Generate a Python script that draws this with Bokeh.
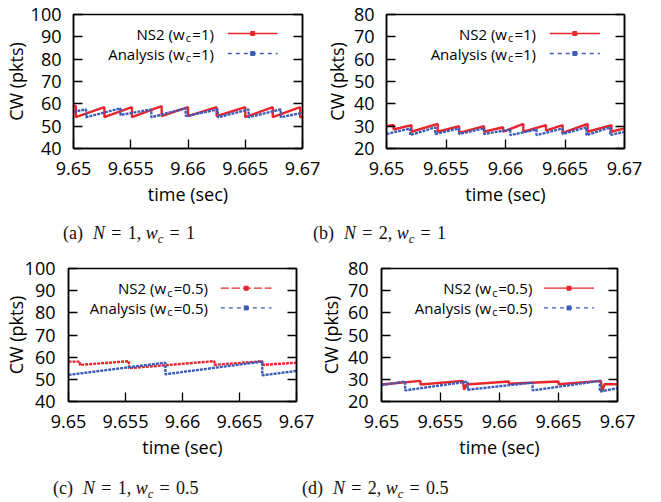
from bokeh.plotting import figure
from bokeh.models import Range1d, FixedTicker, LinearAxis, Label, Div
from bokeh.layouts import column, row
from bokeh.embed import file_html
from bokeh.resources import INLINE

# ---------------- data ----------------
X_TICKS = [9.65, 9.655, 9.66, 9.665, 9.67]
X_TICK_LABELS = ["9.65", "9.655", "9.66", "9.665", "9.67"]
Y_TICKS_N1 = [40, 50, 60, 70, 80, 90, 100]
Y_TICKS_N2 = [20, 30, 40, 50, 60, 70, 80]

# (a) N=1, wc=1
A_NS2_T = [9.6500, 9.6502, 9.6502, 9.6527, 9.6527, 9.6551, 9.6551, 9.6577, 9.6577, 9.6600,
           9.6600, 9.6625, 9.6625, 9.6650, 9.6650, 9.6674, 9.6674, 9.6698, 9.6698, 9.6700]
A_NS2_CW = [59, 59, 54, 58.5, 54, 58.5, 54, 59, 54.5, 58.5,
            54.5, 58.5, 54.5, 58.5, 54, 58.5, 54, 58.5, 54, 54]
A_ANA_T = [9.6500, 9.6511, 9.6511, 9.6541, 9.6541, 9.6568, 9.6568, 9.6598, 9.6598, 9.6626,
           9.6626, 9.6653, 9.6653, 9.6681, 9.6681, 9.6700]
A_ANA_CW = [56.5, 57.5, 54, 58, 55, 57.5, 54, 58, 54.5, 57.5,
            54, 57.5, 54, 57.5, 54, 56]

# (b) N=2, wc=1
B_NS2_T = [9.6500, 9.6506, 9.6506, 9.6521, 9.6521, 9.6543, 9.6543, 9.6561, 9.6561, 9.6582,
           9.6582, 9.6598, 9.6598, 9.6615, 9.6615, 9.6634, 9.6634, 9.6648, 9.6648, 9.6669,
           9.6669, 9.6689, 9.6689, 9.6700]
B_NS2_CW = [30, 30.5, 28.5, 30.5, 27.5, 31, 27.5, 30, 27, 30,
            27.5, 29.5, 27.5, 31, 27.5, 30.5, 28, 30.5, 27, 31,
            27.5, 30.5, 27.5, 29]
B_ANA_T = [9.6500, 9.6520, 9.6520, 9.6541, 9.6541, 9.6561, 9.6561, 9.6582, 9.6582, 9.6604,
           9.6604, 9.6626, 9.6626, 9.6648, 9.6648, 9.6668, 9.6668, 9.6688, 9.6688, 9.6700]
B_ANA_CW = [26.5, 29, 26, 29.5, 26.5, 29, 26.5, 29, 26.5, 28.5,
            26, 28.5, 26, 29, 26.5, 29.5, 26, 29.5, 26, 27.5]

# (c) N=1, wc=0.5
C_NS2_T = [9.6500, 9.6510, 9.6510, 9.6553, 9.6553, 9.6628, 9.6628, 9.6670, 9.6670, 9.6700]
C_NS2_CW = [58, 58, 56.5, 58.2, 55, 58.2, 56.5, 58.2, 56.5, 57.5]
C_ANA_T = [9.6500, 9.6585, 9.6585, 9.6670, 9.6670, 9.6700]
C_ANA_CW = [52, 57.5, 52.3, 58, 51.8, 53.8]

# (d) N=2, wc=0.5
D_NS2_T = [9.6500, 9.6533, 9.6533, 9.6569, 9.6570, 9.6572, 9.6608, 9.6608, 9.6650, 9.6650,
           9.6686, 9.6687, 9.6689, 9.6700]
D_NS2_CW = [27.7, 29.3, 27.7, 29.3, 25.3, 27.7, 29.0, 28.0, 29.0, 27.8,
            29.3, 24.3, 27.8, 27.8]
D_ANA_T = [9.6500, 9.6520, 9.6520, 9.6573, 9.6573, 9.6628, 9.6628, 9.6685, 9.6685, 9.6700]
D_ANA_CW = [27.4, 29.0, 25.0, 29.0, 25.3, 28.5, 25.0, 29.3, 24.5, 26.0]

WC_LABELS = ["1", "1", "0.5", "0.5"]
CAPTIONS = [("a", "1", "1"), ("b", "2", "1"), ("c", "1", "0.5"), ("d", "2", "0.5")]

# ---------------- style ----------------
FONT = "Open Sans"
RED = "#e8262b"
BLUE = "#3b5cb8"
XR = (9.65, 9.67)


def build(width, height, borders, yr, yticks, ns2_t, ns2_cw, ana_t, ana_cw, wc,
          ns2_dash, ns2_leg_dash, tick_standoff, label_standoff, text_right_px,
          row_px, sample_px):
    left, right, top, bottom = borders
    fw = width - left - right
    fh = height - top - bottom
    p = figure(width=width, height=height, x_range=Range1d(*XR), y_range=Range1d(*yr),
               output_backend="svg", toolbar_location=None,
               min_border_left=left, min_border_right=right,
               min_border_top=top, min_border_bottom=bottom)
    p.grid.visible = False
    p.outline_line_color = "black"
    p.outline_line_width = 1.5
    p.outline_line_alpha = 1.0
    p.background_fill_color = "white"
    p.border_fill_color = "white"

    xa = p.xaxis[0]
    ya = p.yaxis[0]
    xa.ticker = FixedTicker(ticks=X_TICKS)
    xa.major_label_overrides = {t: l for t, l in zip(X_TICKS, X_TICK_LABELS)}
    ya.ticker = FixedTicker(ticks=yticks)
    for ax in (xa, ya):
        ax.major_tick_in = 9
        ax.major_tick_out = 0
        ax.minor_tick_line_color = None
        ax.major_tick_line_color = "black"
        ax.major_tick_line_width = 1.3
        ax.axis_line_color = "black"
        ax.axis_line_width = 1.5
        ax.major_label_text_font = FONT
        ax.major_label_text_font_size = "18px"
        ax.major_label_text_color = "black"
        ax.axis_label_text_font = FONT
        ax.axis_label_text_font_size = "18px"
        ax.axis_label_text_font_style = "normal"
        ax.axis_label_text_color = "black"
    xa.axis_label = "time (sec)"
    ya.axis_label = "CW (pkts)"
    ya.major_label_standoff = tick_standoff
    xa.major_label_standoff = 13
    ya.axis_label_standoff = label_standoff
    xa.axis_label_standoff = 4

    ra = LinearAxis(ticker=FixedTicker(ticks=yticks), major_tick_in=9, major_tick_out=0,
                    minor_tick_line_color=None, axis_line_color="black", axis_line_width=1.5,
                    major_tick_line_color="black", major_tick_line_width=1.3,
                    major_label_overrides={t: "" for t in yticks}, major_label_standoff=0)
    p.add_layout(ra, "right")

    # data
    p.line(ns2_t, ns2_cw, line_color=RED, line_width=2.4, line_dash=ns2_dash)
    p.line(ana_t, ana_cw, line_color=BLUE, line_width=2.4, line_dash="3 1")

    def dx(px):
        return XR[0] + px / fw * (XR[1] - XR[0])

    def dy(py):
        return yr[1] - py / fh * (yr[1] - yr[0])

    # legend keys (drawn at pixel positions in the top-right of the frame)
    x0, x1 = sample_px
    for rpx, col, dash in ((row_px[0], RED, ns2_leg_dash), (row_px[1], BLUE, "4 4")):
        p.line([dx(x0), dx(x1)], [dy(rpx), dy(rpx)], line_color=col, line_width=1.3, line_dash=dash)
        p.scatter([dx((x0 + x1) / 2)], [dy(rpx)], marker="square", size=4,
                  fill_color=col, line_color=col)

    tail = "=" + wc + ")"
    tail_w = {"1": 23.0, "0.5": 35.5}[wc]
    sub_w = 6.5
    for name, rpx in (("NS2 (w", row_px[0]), ("Analysis (w", row_px[1])):
        p.add_layout(Label(x=dx(text_right_px), y=dy(rpx), text=tail, text_align="right",
                           text_baseline="middle", text_font=FONT, text_font_size="15px",
                           text_color="black"))
        p.add_layout(Label(x=dx(text_right_px - tail_w), y=dy(rpx + 4), text="c",
                           text_align="right", text_baseline="middle", text_font=FONT,
                           text_font_size="11px", text_color="black"))
        p.add_layout(Label(x=dx(text_right_px - tail_w - sub_w), y=dy(rpx), text=name,
                           text_align="right", text_baseline="middle", text_font=FONT,
                           text_font_size="15px", text_color="black"))
    return p


pa = build(321, 210, (72, 19, 14, 62), (40, 100), Y_TICKS_N1, A_NS2_T, A_NS2_CW, A_ANA_T, A_ANA_CW,
           WC_LABELS[0], "solid", "solid", 12, 0, 141, (19, 39), (155, 205))
pb = build(340, 210, (61, 37, 14, 62), (20, 80), Y_TICKS_N2, B_NS2_T, B_NS2_CW, B_ANA_T, B_ANA_CW,
           WC_LABELS[1], "solid", "solid", 12, 2, 152, (19, 39), (166, 217))
pc = build(315, 206, (67, 19, 13, 58), (40, 100), Y_TICKS_N1, C_NS2_T, C_NS2_CW, C_ANA_T, C_ANA_CW,
           WC_LABELS[2], "3 1", "8 3", 13, -6, 140, (20, 40), (153, 204))
pd_ = build(346, 206, (61, 44, 13, 58), (20, 80), Y_TICKS_N2, D_NS2_T, D_NS2_CW, D_ANA_T, D_ANA_CW,
            WC_LABELS[3], "solid", "solid", 13, 2, 154, (20, 40), (166, 217))

CAP_STYLE = ("position:absolute;top:{top}px;left:{left}px;white-space:nowrap;"
             "font-family:'Liberation Serif',serif;font-size:18px;line-height:20px;color:#111")


def cap_html(tag, n, wc):
    eq = '<span style="margin:0 0.35em">=</span>'
    return (f'({tag})<span style="margin-left:0.55em"></span><i>N</i>{eq}{n},&nbsp;'
            f'<i>w<sub style="font-size:70%;vertical-align:-0.3em;line-height:0">c</sub></i>{eq}{wc}')


def cap_div(items, height, top):
    spans = "".join(f'<span style="{CAP_STYLE.format(top=top, left=left)}">{cap_html(*c)}</span>'
                    for left, c in items)
    return Div(text=f'<div style="position:relative;width:661px;height:{height}px;overflow:hidden">{spans}</div>',
               width=661, height=height, margin=0)


cap1 = cap_div([(63, CAPTIONS[0]), (313, CAPTIONS[1])], 45, 13)
cap2 = cap_div([(53, CAPTIONS[2]), (302, CAPTIONS[3])], 41, 17)

layout = column(row(pa, pb), cap1, row(pc, pd_), cap2)
open("out.html", "w").write(file_html(layout, INLINE))
